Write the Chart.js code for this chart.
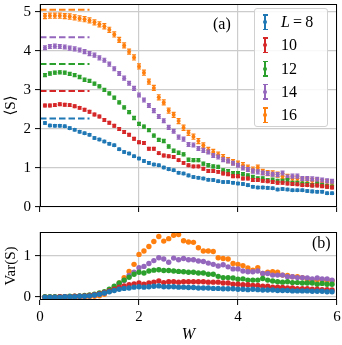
<!DOCTYPE html>
<html>
<head>
<meta charset="utf-8">
<script src="https://cdn.jsdelivr.net/npm/chart.js@4/dist/chart.umd.min.js"></script>
<style>
  html, body { margin: 0; padding: 0; background: #fff; }
  #wrap { position: relative; width: 342px; height: 345px; overflow: hidden; font-family: 'Liberation Serif', 'DejaVu Serif', serif; }
  canvas { position: absolute; left: 0; }
  #topChart { top: 0; }
  #bottomChart { top: 226px; }
  .tag { position: absolute; font-size: 16px; line-height: 16px; color: #000; }
  #legend { position: absolute; left: 254px; top: 8px; width: 74px; height: 119px; box-sizing: border-box;
            border: 1px solid #d0d0d0; border-radius: 3px; background: rgba(255,255,255,0.85); }
  .row { position: absolute; left: 0; height: 20px; width: 100%; }
  .bar { position: absolute; left: 9px; top: 2px; width: 1.6px; height: 16px; }
  .cap { position: absolute; left: 7.5px; width: 5px; height: 1.5px; }
  .dot { position: absolute; left: 8px; top: 8px; width: 4px; height: 4px; border-radius: 50%; }
  .lbl { position: absolute; left: 26px; top: 1px; font-size: 16px; line-height: 18px; color: #000; white-space: nowrap; }
</style>
</head>
<body>
<div id="wrap">
  <canvas id="topChart" width="342" height="215"></canvas>
  <canvas id="bottomChart" width="342" height="119"></canvas>
  <div class="tag" style="left:213px; top:16px;">(a)</div>
  <div class="tag" style="left:312px; top:235px;">(b)</div>
  <div id="legend"></div>
</div>
<script>
// Données
const W = [0.1, 0.2, 0.3, 0.4, 0.5, 0.6, 0.7, 0.8, 0.9, 1.0,
           1.1, 1.2, 1.3, 1.4, 1.5, 1.6, 1.7, 1.8, 1.9, 2.0,
           2.1, 2.2, 2.3, 2.4, 2.5, 2.6, 2.7, 2.8, 2.9, 3.0,
           3.1, 3.2, 3.3, 3.4, 3.5, 3.6, 3.7, 3.8, 3.9, 4.0,
           4.1, 4.2, 4.3, 4.4, 4.5, 4.6, 4.7, 4.8, 4.9, 5.0,
           5.1, 5.2, 5.3, 5.4, 5.5, 5.6, 5.7, 5.8, 5.9];

const sizes = ['8', '10', '12', '14', '16'];
const colors = ['#1f77b4', '#d62728', '#2ca02c', '#9467bd', '#ff7f0e'];

// Page values (dashed lines, W from 0 to 1)
const pageLevels = [2.27, 2.97, 3.66, 4.35, 5.05];
const pageRange = [0, 1];

// error bar half-size on <S>, one per L
const errS = [0.03, 0.035, 0.04, 0.05, 0.065];

// <S>
const s8 = [2.15, 2.09, 2.08, 2.08, 2.07, 2.02, 1.98, 1.93, 1.89, 1.85,
            1.77, 1.73, 1.68, 1.62, 1.58, 1.48, 1.41, 1.37, 1.30, 1.24,
            1.18, 1.13, 1.09, 1.07, 1.01, 0.97, 0.94, 0.88, 0.86, 0.81,
            0.77, 0.75, 0.73, 0.70, 0.69, 0.66, 0.64, 0.64, 0.62, 0.60,
            0.59, 0.56, 0.52, 0.50, 0.50, 0.49, 0.48, 0.45, 0.46, 0.45,
            0.43, 0.43, 0.43, 0.41, 0.40, 0.39, 0.39, 0.35, 0.35];
const s10 = [2.60, 2.60, 2.61, 2.63, 2.62, 2.61, 2.58, 2.54, 2.49, 2.44,
             2.37, 2.32, 2.23, 2.16, 2.08, 2.00, 1.92, 1.85, 1.75, 1.66,
             1.64, 1.49, 1.49, 1.38, 1.32, 1.30, 1.28, 1.20, 1.13, 1.07,
             1.04, 1.04, 0.98, 0.92, 0.92, 0.90, 0.86, 0.84, 0.79, 0.79,
             0.73, 0.73, 0.69, 0.69, 0.67, 0.66, 0.64, 0.62, 0.62, 0.60,
             0.59, 0.58, 0.56, 0.56, 0.55, 0.55, 0.53, 0.52, 0.50];
const s12 = [3.38, 3.42, 3.44, 3.45, 3.44, 3.41, 3.38, 3.33, 3.26, 3.23,
             3.16, 3.09, 3.00, 2.91, 2.80, 2.68, 2.55, 2.43, 2.28, 2.13,
             2.06, 1.97, 1.83, 1.72, 1.69, 1.55, 1.44, 1.39, 1.35, 1.21,
             1.20, 1.20, 1.11, 1.07, 1.04, 1.03, 0.94, 0.92, 0.87, 0.87,
             0.84, 0.81, 0.77, 0.73, 0.73, 0.69, 0.70, 0.67, 0.67, 0.69,
             0.62, 0.62, 0.60, 0.59, 0.56, 0.59, 0.56, 0.53, 0.52];
const s14 = [4.08, 4.11, 4.12, 4.11, 4.10, 4.07, 4.05, 4.02, 3.98, 3.93,
             3.89, 3.82, 3.76, 3.66, 3.54, 3.42, 3.30, 3.17, 3.04, 2.87,
             2.74, 2.60, 2.47, 2.32, 2.21, 2.04, 1.94, 1.79, 1.74, 1.60,
             1.59, 1.50, 1.45, 1.41, 1.32, 1.28, 1.21, 1.18, 1.12, 1.07,
             1.00, 0.96, 0.92, 0.90, 0.87, 0.86, 0.84, 0.83, 0.87, 0.77,
             0.79, 0.79, 0.73, 0.73, 0.72, 0.71, 0.69, 0.67, 0.66];
const s16 = [4.89, 4.90, 4.90, 4.90, 4.89, 4.88, 4.86, 4.83, 4.81, 4.78,
             4.73, 4.68, 4.63, 4.54, 4.42, 4.28, 4.14, 3.98, 3.83, 3.60,
             3.44, 3.21, 3.05, 2.81, 2.68, 2.47, 2.36, 2.20, 2.03, 1.90,
             1.80, 1.69, 1.58, 1.46, 1.41, 1.34, 1.28, 1.20, 1.15, 1.11,
             1.07, 1.01, 0.96, 1.01, 0.90, 0.87, 0.86, 0.83, 0.79, 0.77,
             0.73, 0.73, 0.69, 0.69, 0.67, 0.67, 0.64, 0.64, 0.62];

// Var(S)
const v8 = [0.00, 0.00, 0.00, 0.00, 0.01, 0.01, 0.01, 0.02, 0.02, 0.03,
            0.05, 0.07, 0.10, 0.13, 0.16, 0.19, 0.21, 0.22, 0.24, 0.25,
            0.24, 0.25, 0.26, 0.27, 0.25, 0.25, 0.25, 0.24, 0.24, 0.23,
            0.23, 0.22, 0.22, 0.22, 0.21, 0.21, 0.20, 0.20, 0.20, 0.19,
            0.19, 0.18, 0.19, 0.18, 0.17, 0.17, 0.17, 0.16, 0.16, 0.16,
            0.15, 0.15, 0.15, 0.15, 0.14, 0.14, 0.14, 0.13, 0.13];
const v10 = [0.00, 0.00, 0.00, 0.01, 0.01, 0.01, 0.02, 0.02, 0.03, 0.04,
             0.06, 0.08, 0.11, 0.15, 0.19, 0.24, 0.27, 0.30, 0.32, 0.34,
             0.31, 0.34, 0.36, 0.39, 0.35, 0.37, 0.37, 0.36, 0.37, 0.37,
             0.37, 0.37, 0.37, 0.36, 0.36, 0.36, 0.34, 0.34, 0.31, 0.31,
             0.30, 0.30, 0.28, 0.28, 0.26, 0.26, 0.24, 0.24, 0.23, 0.22,
             0.22, 0.20, 0.20, 0.20, 0.19, 0.19, 0.18, 0.18, 0.17];
const v12 = [0.01, 0.01, 0.01, 0.01, 0.01, 0.02, 0.02, 0.03, 0.04, 0.05,
             0.07, 0.10, 0.13, 0.19, 0.26, 0.34, 0.41, 0.48, 0.55, 0.60,
             0.58, 0.63, 0.65, 0.66, 0.64, 0.64, 0.63, 0.62, 0.61, 0.60,
             0.60, 0.58, 0.58, 0.55, 0.55, 0.50, 0.47, 0.47, 0.46, 0.43,
             0.44, 0.41, 0.41, 0.41, 0.45, 0.41, 0.39, 0.37, 0.36, 0.37,
             0.35, 0.35, 0.34, 0.34, 0.34, 0.31, 0.33, 0.31, 0.31];
const v14 = [0.00, 0.00, 0.00, 0.00, 0.01, 0.01, 0.01, 0.02, 0.02, 0.03,
             0.05, 0.07, 0.10, 0.15, 0.22, 0.32, 0.40, 0.52, 0.60, 0.71,
             0.74, 0.81, 0.88, 0.95, 0.92, 0.84, 0.94, 0.90, 0.93, 0.90,
             0.90, 0.87, 0.86, 0.82, 0.79, 0.75, 0.78, 0.73, 0.68, 0.68,
             0.63, 0.61, 0.61, 0.63, 0.57, 0.57, 0.53, 0.53, 0.53, 0.49,
             0.49, 0.47, 0.47, 0.46, 0.44, 0.46, 0.44, 0.44, 0.41];
const v16 = [0.00, 0.00, 0.00, 0.00, 0.00, 0.00, 0.00, 0.00, 0.00, 0.01,
             0.02, 0.03, 0.07, 0.14, 0.22, 0.34, 0.47, 0.62, 0.79, 1.03,
             1.11, 1.22, 1.34, 1.46, 1.35, 1.41, 1.49, 1.51, 1.36, 1.33,
             1.32, 1.19, 1.11, 1.11, 1.10, 0.95, 0.93, 0.92, 0.81, 0.79,
             0.76, 0.70, 0.65, 0.71, 0.57, 0.60, 0.61, 0.60, 0.53, 0.52,
             0.49, 0.49, 0.47, 0.41, 0.41, 0.42, 0.41, 0.41, 0.39];

const xTicks = [0, 2, 4, 6];
const yTicksTop = [0, 1, 2, 3, 4, 5];
const yTicksBottom = [0, 1];

const entropy = [s8, s10, s12, s14, s16];
const variance = [v8, v10, v12, v14, v16];

const serif = "'Liberation Serif', 'DejaVu Serif', serif";
const gridColor = '#cccccc';

function points(arr) {
    return W.map((w, i) => ({ x: w, y: arr[i] }));
}

// barres d'erreur verticales
const errorBars = {
    id: 'errorBars',
    afterDatasetDraw(chart, args) {
        const ds = chart.data.datasets[args.index];
        if (!ds.err) return;
        const ctx = chart.ctx;
        const y = chart.scales.y;
        ctx.save();
        ctx.strokeStyle = ds.borderColor;
        ctx.lineWidth = 1.2;
        args.meta.data.forEach((pt, i) => {
            const v = ds.data[i].y;
            const y1 = y.getPixelForValue(v + ds.err);
            const y2 = y.getPixelForValue(v - ds.err);
            ctx.beginPath();
            ctx.moveTo(pt.x, y1); ctx.lineTo(pt.x, y2);
            ctx.moveTo(pt.x - 2, y1); ctx.lineTo(pt.x + 2, y1);
            ctx.moveTo(pt.x - 2, y2); ctx.lineTo(pt.x + 2, y2);
            ctx.stroke();
        });
        ctx.restore();
    }
};

// cadre noir autour de la zone de tracé
const frame = {
    id: 'frame',
    afterDraw(chart) {
        const a = chart.chartArea;
        const ctx = chart.ctx;
        ctx.save();
        ctx.strokeStyle = '#000';
        ctx.lineWidth = 1;
        ctx.strokeRect(Math.round(a.left) + 0.5, Math.round(a.top) + 0.5,
                       Math.round(a.right - a.left) - 1, Math.round(a.bottom - a.top) - 1);
        ctx.restore();
    }
};

function gridOpts() {
    return { color: gridColor, lineWidth: 1.2, tickLength: 5, tickColor: '#000', tickWidth: 1 };
}

function fixWidth(a) {
    a.width = 40;
    a.paddingTop = 0;
    a.paddingBottom = 0;
}

function fixHeight(h) {
    return a => {
        a.height = h;
        a.paddingLeft = 0;
        a.paddingRight = 0;
    };
}

// 1. Top panel: <S>
const topDatasets = [];
pageLevels.forEach((lvl, k) => {
    topDatasets.push({
        type: 'line',
        data: pageRange.map(x => ({ x: x, y: lvl })),
        borderColor: colors[k],
        borderWidth: 2,
        borderDash: [6.5, 3],
        pointRadius: 0,
        showLine: true,
        fill: false
    });
});
entropy.forEach((arr, k) => {
    topDatasets.push({
        data: points(arr),
        err: errS[k],
        borderColor: colors[k],
        backgroundColor: colors[k],
        pointRadius: 2,
        pointBorderWidth: 0,
        showLine: false
    });
});

new Chart(document.getElementById('topChart'), {
    type: 'scatter',
    data: { datasets: topDatasets },
    options: {
        responsive: false,
        animation: false,
        events: [],
        layout: { padding: { top: 3, right: 5, left: 0, bottom: 0 } },
        plugins: { legend: { display: false }, tooltip: { enabled: false } },
        scales: {
            x: {
                type: 'linear', min: 0, max: 6,
                afterBuildTicks: a => { a.ticks = xTicks.map(v => ({ value: v })); },
                afterFit: fixHeight(8),
                ticks: { display: false },
                grid: gridOpts(),
                border: { display: false }
            },
            y: {
                type: 'linear', min: 0, max: 5.2,
                afterBuildTicks: a => { a.ticks = yTicksTop.map(v => ({ value: v })); },
                afterFit: fixWidth,
                ticks: { color: '#000', padding: 4, font: { family: serif, size: 15 } },
                grid: gridOpts(),
                border: { display: false },
                title: { display: true, text: '⟨S⟩', color: '#000', padding: { top: 2, bottom: 0 },
                         font: { family: serif, size: 15 } }
            }
        }
    },
    plugins: [errorBars, frame]
});

// 2. Bottom panel: Var(S)
const bottomDatasets = variance.map((arr, k) => ({
    data: points(arr),
    borderColor: colors[k],
    backgroundColor: colors[k],
    pointRadius: 2.7,
    pointBorderWidth: 0,
    showLine: false
}));

new Chart(document.getElementById('bottomChart'), {
    type: 'scatter',
    data: { datasets: bottomDatasets },
    options: {
        responsive: false,
        animation: false,
        events: [],
        layout: { padding: { top: 6, right: 5, left: 0, bottom: 0 } },
        plugins: { legend: { display: false }, tooltip: { enabled: false } },
        scales: {
            x: {
                type: 'linear', min: 0, max: 6,
                afterBuildTicks: a => { a.ticks = xTicks.map(v => ({ value: v })); },
                afterFit: fixHeight(45),
                ticks: { color: '#000', padding: 3, font: { family: serif, size: 15 } },
                grid: gridOpts(),
                border: { display: false },
                title: { display: true, text: 'W', color: '#000', padding: { top: 0, bottom: 1 },
                         font: { family: serif, size: 16, style: 'italic' } }
            },
            y: {
                type: 'linear', min: -0.07, max: 1.57,
                afterBuildTicks: a => { a.ticks = yTicksBottom.map(v => ({ value: v })); },
                afterFit: fixWidth,
                ticks: { color: '#000', padding: 4, font: { family: serif, size: 15 } },
                grid: gridOpts(),
                border: { display: false },
                title: { display: true, text: 'Var(S)', color: '#000', padding: { top: 2, bottom: 0 },
                         font: { family: serif, size: 15 } }
            }
        }
    },
    plugins: [frame]
});

// Légende
const legend = document.getElementById('legend');
sizes.forEach((L, k) => {
    const row = document.createElement('div');
    row.className = 'row';
    row.style.top = (3 + k * 23.3) + 'px';
    const c = colors[k];
    row.innerHTML =
        `<div class="bar" style="background:${c}"></div>` +
        `<div class="cap" style="top:2px;background:${c}"></div>` +
        `<div class="cap" style="top:16.5px;background:${c}"></div>` +
        `<div class="dot" style="background:${c}"></div>` +
        `<div class="lbl">${k === 0 ? '<i>L</i>&thinsp;=&thinsp;' + L : L}</div>`;
    legend.appendChild(row);
});
</script>
</body>
</html>
